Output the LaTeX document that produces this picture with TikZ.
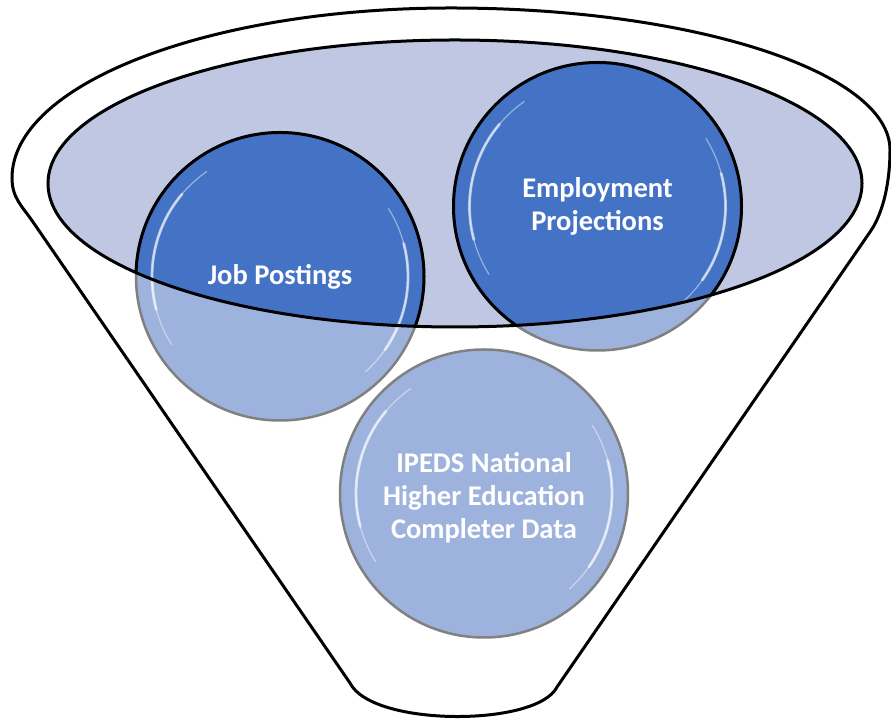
\documentclass[tikz,border=0pt]{standalone}
\usepackage{fontspec}
\setmainfont{Carlito}
\usepackage{tikz}
\definecolor{fundblue}{RGB}{68,114,196}
\definecolor{fundlight}{RGB}{157,179,222}
\definecolor{rimlavender}{RGB}{191,199,226}
\definecolor{edgegray}{RGB}{128,128,128}

\begin{document}
\begin{tikzpicture}[x=1pt,y=1pt,
    bubble/.style={circle,minimum size=288pt,inner sep=0pt,fill=fundlight,draw=edgegray,line width=2.5pt},
    bubbletext/.style={text=white,align=center,font=\bfseries\fontsize{28.5}{33}\selectfont},
    glossthin/.style={white,line width=1.2pt,opacity=0.45,line cap=round},
    glossthick/.style={white,line width=2.8pt,opacity=0.6,line cap=round}]
\useasboundingbox (0,0) rectangle (891,719);

\draw[line width=3pt,fill=white] (557,32) -- (870,487) .. controls (884,507) and (890,539) .. (890,569)
   .. controls (890,647) and (693,711) .. (451,711) .. controls (209,711) and (12,635) .. (12,541)
   .. controls (12,521) and (22,513) .. (33,497) -- (350,36) .. controls (372,-8) and (537,-8) .. (557,32) -- cycle;

\fill[rimlavender] (455,535.5) ellipse [x radius=407pt, y radius=143.5pt];

\node[bubble] (jobs) at (280,442.5) {};
\node[bubble] (proj) at (597.5,512.5) {};
\node[bubble] (ipeds) at (484,225.5) {};

\begin{scope}
  \clip (455,535.5) ellipse [x radius=407pt, y radius=143.5pt];
  \foreach \b in {jobs,proj}
    \draw[fill=fundblue,line width=3pt] (\b.center) circle [radius=144pt];
\end{scope}

\foreach \b in {jobs,proj,ipeds} {
  \draw[glossthin] (\b.center) ++(125:128) arc[start angle=125,end angle=212,radius=128pt];
  \draw[glossthick] (\b.center) ++(140:128) arc[start angle=140,end angle=195,radius=128pt];
  \draw[glossthin] (\b.center) ++(32:128) arc[start angle=32,end angle=-48,radius=128pt];
  \draw[glossthick] (\b.center) ++(15:128) arc[start angle=15,end angle=-35,radius=128pt];
}

\draw[line width=3pt] (455,535.5) ellipse [x radius=407pt, y radius=143.5pt];

\node[bubbletext] (jobs label) at (jobs) {Job Postings};
\node[bubbletext] (proj label) at (proj) {Employment\\Projections};
\node[bubbletext,yshift=-4pt] (ipeds label) at (ipeds) {IPEDS National\\Higher Education\\Completer Data};
\end{tikzpicture}
\end{document}
